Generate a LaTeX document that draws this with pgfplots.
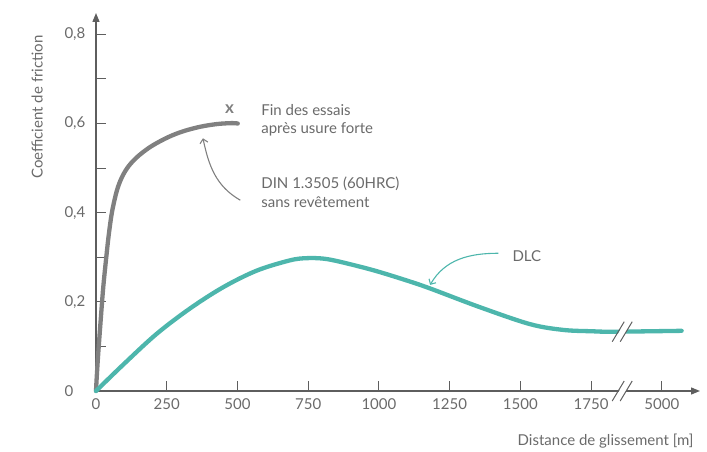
\documentclass[border=0pt]{standalone}
\usepackage{fontspec}
\setmainfont{Lato}
\usepackage{pgfplots}
\pgfplotsset{compat=1.18}
\usetikzlibrary{arrows.meta}
\definecolor{txt}{HTML}{6A6A6A}
\definecolor{axc}{HTML}{5E5E5E}
\definecolor{grc}{HTML}{808080}
\definecolor{teal}{HTML}{4DB6AC}
\pgfplotstableread{
x y
0 0
2.5 0.03
8 0.085
16.6 0.159
25.8 0.234
37.8 0.309
46 0.355
57 0.403
74 0.450
92 0.480
116 0.505
151 0.528
198 0.550
257 0.570
310 0.583
370 0.593
430 0.599
482 0.601
501 0.600
}\steel
\pgfplotstableread{
x y
0 0
96 0.059
214 0.128
332 0.185
450 0.233
568 0.270
685 0.293
744 0.298
803 0.297
862 0.290
980 0.271
1098 0.248
1181 0.230
1357 0.188
1534 0.150
1652 0.137
1753 0.134
1829 0.133
2070 0.135
}\dlc
\begin{document}
\begin{tikzpicture}[font=\fontsize{15}{18}\selectfont, text=txt]
\path[use as bounding box] (0,0) rectangle (707pt,452pt);
\begin{axis}[
  at={(96pt,61pt)}, anchor=south west,
  scale only axis, width=604pt, height=378pt,
  xmin=0, xmax=2135, ymin=0, ymax=0.848,
  enlargelimits=false, clip=false,
  axis lines=left,
  axis line style={draw=axc, line width=1.3pt, -{Triangle[length=9pt,width=7pt]}},
  tick style={draw=axc, line width=1pt},
  tick align=inside,
  major tick length=10pt, minor tick length=10pt,
  xtick={0,250,500,750,1000,1250,1500,1750,2000},
  xticklabels={0,250,500,750,1000,1250,1500,1750,5000},
  ytick={0,0.2,0.4,0.6,0.8},
  yticklabels={0,{0,2},{0,4},{0,6},{0,8}},
  minor ytick={0.1,0.3,0.5,0.7},
  /pgf/number format/assume math mode=true,
  xticklabel style={yshift=-4pt},
  yticklabel style={anchor=west, xshift=-35pt},
  xlabel={Distance de glissement [m]},
  ylabel={Coefficient de friction},
  xlabel style={at={(axis description cs:0.995,-0.1455)}, anchor=base east},
  ylabel style={at={(axis description cs:-0.0975,0.751)}, anchor=center},
]
\addplot[grc, line width=4.3pt, smooth, tension=0.55, line cap=round] table {\steel};
\addplot[teal, line width=4.3pt, smooth, tension=0.55, line cap=round] table {\dlc};
% axis break
\fill[white] ([shift={(-9pt,-11pt)}]axis cs:1860,0) -- ++(12pt,22pt) -- ++(7pt,0) -- ++(-12pt,-22pt) -- cycle;
\draw[axc, line width=1pt] ([shift={(-10pt,-10pt)}]axis cs:1860,0) -- ++(12pt,20pt);
\draw[axc, line width=1pt] ([shift={(-2pt,-10pt)}]axis cs:1860,0) -- ++(12pt,20pt);
\fill[white] ([shift={(-9pt,-11pt)}]axis cs:1860,0.133) -- ++(12pt,22pt) -- ++(7pt,0) -- ++(-12pt,-22pt) -- cycle;
\draw[axc, line width=1pt] ([shift={(-10pt,-10pt)}]axis cs:1860,0.133) -- ++(12pt,20pt);
\draw[axc, line width=1pt] ([shift={(-2pt,-10pt)}]axis cs:1860,0.133) -- ++(12pt,20pt);
% annotations
\node[anchor=base, font=\fontsize{17}{18}\selectfont\bfseries, text=grc] at (axis cs:472,0.623) {x};
\node[anchor=base west] at (axis cs:572,0.619) {Fin des essais};
\node[anchor=base west] at (axis cs:572,0.578) {après usure forte};
\node[anchor=base west] at (axis cs:572,0.455) {DIN 1.3505 (60HRC)};
\node[anchor=base west] at (axis cs:572,0.4126) {sans revêtement};
\node[anchor=base west] at (axis cs:1460,0.29) {DLC};
\draw[grc, line width=1.1pt, -{Straight Barb[length=4pt,width=8pt]}] (axis cs:510,0.428) to[out=150,in=-78] (axis cs:378,0.567);
\draw[teal, line width=1.1pt, -{Straight Barb[length=4pt,width=8pt]}] (axis cs:1422,0.309) to[out=180,in=60] (axis cs:1181,0.238);
\end{axis}
\end{tikzpicture}
\end{document}
